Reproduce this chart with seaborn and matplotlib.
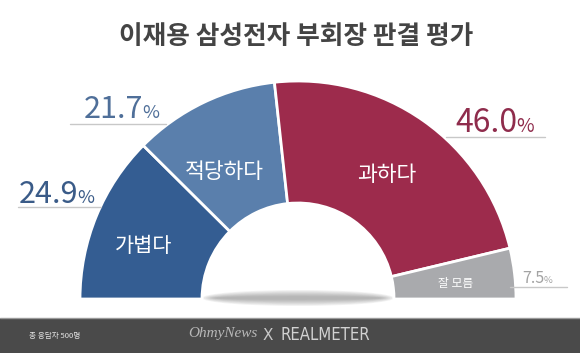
import matplotlib.pyplot as plt
import matplotlib.patches as mpatches
import seaborn as sns

title = "이재용 삼성전자 부회장 판결 평가"
categories = ["가볍다", "적당하다", "과하다", "잘 모름"]
shares = [24.9, 21.7, 46.0, 7.5]
value_labels = ["24.9", "21.7", "46.0", "7.5"]
footer_note = "총 응답자 500명"

wedge_colors = ["#345d92", "#5a7fac", "#9d2b4c", "#a9aaad"]
label_colors = ["#3a5b88", "#4f6f99", "#8f2c4c", "#a3a3a3"]

W, H = 580, 353


def main():
    sns.set_theme(style="white")
    plt.rcParams['font.family'] = ['Noto Sans CJK KR', 'DejaVu Sans']

    fig = plt.figure(figsize=(5.8, 3.53), dpi=100)
    ax = fig.add_axes([0, 0, 1, 1])

    # half donut: pad the pie with an invisible wedge equal to the total
    cx, cy = 298, H - 299
    r_out, r_in = 218, 96
    wedges, _ = ax.pie(shares + [sum(shares)], colors=wedge_colors + ["none"],
                       startangle=180, counterclock=False, radius=r_out, center=(cx, cy),
                       wedgeprops=dict(width=r_out - r_in, edgecolor="white", linewidth=2))
    wedges[-1].set_edgecolor("none")

    ax.set_xlim(0, W)
    ax.set_ylim(0, H)
    ax.set_aspect("equal")
    ax.axis("off")

    # soft shadow under the hole
    for i in range(8):
        ax.add_patch(mpatches.Ellipse((cx, cy + 1), 2 * r_in * (1.0 - i * 0.02), 16 - i * 1.8,
                                      color="#7a7a7a", alpha=0.09, lw=0, zorder=0))

    # labels inside the wedges
    inner_pos = [(144, 246), (224, 172), (387, 175), (456, 284)]
    inner_size = [15, 15.5, 15.5, 8.5]
    for cat, (x, y), s in zip(categories, inner_pos, inner_size):
        ax.text(x, H - y, cat, color="white", fontsize=s, ha="center", va="center")

    # value labels with underline
    value_pos = [(19, 203), (84, 118), (455, 132), (522, 283)]
    value_size = [22, 22, 23, 11.5]
    line_spans = [(18, 101, 207), (70, 166, 124), (446, 545, 137), (510, 567, 287)]
    fig.canvas.draw()
    renderer = fig.canvas.get_renderer()
    inv = ax.transData.inverted()
    for lab, col, (x, y), s, (x0, x1, ly) in zip(value_labels, label_colors, value_pos, value_size, line_spans):
        t = ax.text(x, H - y, lab, color=col, fontsize=s, ha="left", va="baseline")
        bb = t.get_window_extent(renderer)
        xr = inv.transform((bb.x1, bb.y0))[0]
        ax.text(xr - 1, H - y, "%", color=col, fontsize=s * 0.6, ha="left", va="baseline")
        ax.plot([x0, x1], [H - ly, H - ly], color="#c8c8c8", lw=1)

    ax.text(296, H - 37, title, color="#444444", fontsize=18.5, fontweight="bold", ha="center", va="center")

    # footer band
    ax.add_patch(mpatches.Rectangle((0, 0), W, H - 318, color="#4a4a4a", lw=0))
    ax.plot([0, W], [H - 318, H - 318], color="#9a9a9a", lw=1)
    ax.text(29, H - 336, footer_note, color="#e6e6e6", fontsize=5.5, ha="left", va="center")
    ax.text(257, H - 334, "OhmyNews", color="#b8b8b8", fontsize=11, family="Liberation Serif",
            style="italic", ha="right", va="center")
    ax.text(268, H - 335, "X", color="#c8c8c8", fontsize=11, family="DejaVu Sans", ha="center", va="center")
    ax.text(280, H - 335, "REALMETER", color="#d2d2d2", fontsize=12,
            family=["Liberation Sans Narrow", "DejaVu Sans"], fontstretch="condensed",
            ha="left", va="center")

    plt.savefig("out.png", dpi=100)
    plt.close()


if __name__ == '__main__':
    main()
